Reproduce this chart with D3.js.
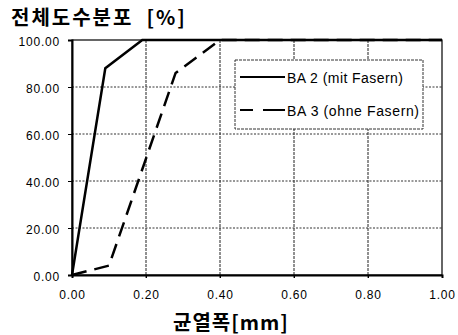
<!DOCTYPE html>
<html>
<head>
<meta charset="utf-8">
<script src="https://cdn.jsdelivr.net/npm/d3@7"></script>
<style>
body { margin:0; background:#fff; }
svg text { font-family: "Liberation Sans", Arial, sans-serif; }
.kr { font-family: "Noto Sans CJK KR", sans-serif; font-weight: bold; }
</style>
</head>
<body>
<script>
// data
var xTicks = [0, 0.2, 0.4, 0.6, 0.8, 1.0];
var yTicks = [0, 20, 40, 60, 80, 100];
var ba2_x = [0, 0.09, 0.19, 1.0];
var ba2_y = [0, 88, 100, 100];
var ba3_x = [0, 0.1, 0.28, 0.4, 1.0];
var ba3_y = [0, 4, 86, 100, 100];
var seriesNames = ["BA 2 (mit Fasern)", "BA 3 (ohne Fasern)"];

var W = 458, H = 335;
var m = {l:72, r:16, t:40, b:60};
var svg = d3.select("body").append("svg").attr("width", W).attr("height", H);

var x = d3.scaleLinear().domain([0, 1]).range([m.l, W - m.r]);
var y = d3.scaleLinear().domain([0, 100]).range([H - m.b, m.t]);

// grid
svg.append("g").selectAll("line").data(xTicks.slice(1, -1)).join("line")
	.attr("x1", d => x(d)).attr("x2", d => x(d))
	.attr("y1", y(100)).attr("y2", y(0) + 3)
	.attr("stroke", "#222").attr("stroke-width", 1).attr("stroke-dasharray", "3,1");
svg.append("g").selectAll("line").data(yTicks.slice(1, -1)).join("line")
	.attr("x1", x(0)).attr("x2", x(1))
	.attr("y1", d => y(d)).attr("y2", d => y(d))
	.attr("stroke", "#333").attr("stroke-width", 1).attr("stroke-dasharray", "2,1.5");

// frame
svg.append("rect").attr("x", x(0)).attr("y", y(100))
	.attr("width", x(1) - x(0)).attr("height", y(0) - y(100))
	.attr("fill", "none").attr("stroke", "#000").attr("stroke-width", 1.2);

// axes
var xAxis = d3.axisBottom(x).tickValues(xTicks).tickFormat(d3.format(".2f")).tickSize(3).tickPadding(12);
var yAxis = d3.axisLeft(y).tickValues(yTicks).tickFormat(d3.format(".2f")).tickSize(4).tickPadding(8);
var gx = svg.append("g").attr("transform", "translate(0," + y(0) + ")").call(xAxis);
var gy = svg.append("g").attr("transform", "translate(" + x(0) + ",0)").call(yAxis);
[gx, gy].forEach(function(g) {
	g.select(".domain").attr("stroke-width", 2);
	g.selectAll("text").attr("font-size", 12).attr("letter-spacing", 0.8).attr("fill", "#000");
});
gy.selectAll("text").attr("dy", "0.45em");

// lines
var line = d3.line().x(d => x(d[0])).y(d => y(d[1]));
var ba2 = ba2_x.map((v, i) => [v, ba2_y[i]]);
var ba3 = ba3_x.map((v, i) => [v, ba3_y[i]]);
svg.append("path").datum(ba3).attr("d", line).attr("fill", "none")
	.attr("stroke", "#000").attr("stroke-width", 2.5).attr("stroke-dasharray", "15,8");
svg.append("path").datum(ba2).attr("d", line).attr("fill", "none")
	.attr("stroke", "#000").attr("stroke-width", 2.5);

// legend
var lg = svg.append("g").attr("transform", "translate(235,60)");
lg.append("rect").attr("width", 188).attr("height", 69).attr("fill", "#fff")
	.attr("stroke", "#333").attr("stroke-width", 1).attr("stroke-dasharray", "3,1");
lg.selectAll("line.k").data(seriesNames).join("line")
	.attr("x1", 5).attr("x2", 50)
	.attr("y1", (d, i) => 17 + i * 33).attr("y2", (d, i) => 17 + i * 33)
	.attr("stroke", "#000").attr("stroke-width", 2)
	.attr("stroke-dasharray", (d, i) => i ? "13,10,22" : null);
lg.selectAll("text").data(seriesNames).join("text")
	.attr("x", 52).attr("y", (d, i) => 23 + i * 33)
	.attr("font-size", 14).attr("textLength", (d, i) => i ? 132 : 116).text(d => d);

// titles
svg.append("text").attr("class", "kr").attr("x", 11).attr("y", 25)
	.attr("font-size", 20).attr("letter-spacing", 2).text("전체도수분포\u00a0\u00a0[%]");
svg.append("text").attr("class", "kr").attr("x", 173).attr("y", 330)
	.attr("font-size", 20).attr("letter-spacing", 1).text("균열폭[mm]");
</script>
</body>
</html>
